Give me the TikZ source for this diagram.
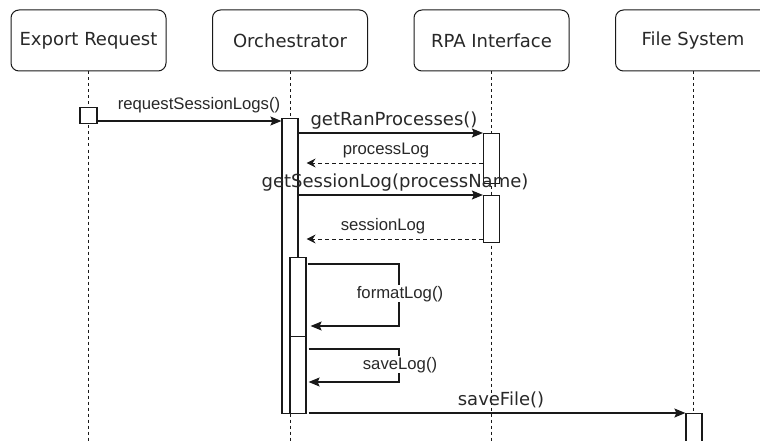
\documentclass[tikz,border=0pt]{standalone}
\usepackage{fontspec}
\usetikzlibrary{arrows.meta,calc}
\newfontfamily\hdrfont{DejaVu Sans}
\newfontfamily\lblfont{Liberation Sans}
\definecolor{ink}{RGB}{25,25,25}
\definecolor{txt}{RGB}{40,40,40}
\tikzset{
  hdr/.style={draw=ink, line width=1pt, rounded corners=8pt, fill=white,
    minimum width=155pt, minimum height=61pt, inner sep=0pt,
    font=\hdrfont\fontsize{18}{21}\selectfont, text=txt},
  life/.style={draw=ink, line width=1pt, dash pattern=on 3pt off 3pt},
  actbox/.style={draw=ink, line width=1.2pt, fill=white, minimum width=16pt,
    inner sep=0pt, anchor=north},
  msg/.style={draw=ink, line width=1.2pt, -{Stealth[length=11pt,width=9pt,inset=2pt]}},
  ret/.style={draw=ink, line width=1pt, dash pattern=on 4pt off 3pt,
    -{Stealth[length=9pt,width=9pt,inset=3pt]}},
  biglbl/.style={font=\hdrfont\fontsize{18}{21}\selectfont, text=txt, anchor=base, inner sep=0pt},
  smllbl/.style={font=\lblfont\fontsize{16.7}{19}\selectfont, text=txt, anchor=base, inner sep=0pt},
}
\begin{document}
\begin{tikzpicture}[x=1pt,y=-1pt]
\useasboundingbox (0,0) rectangle (760,441);

% participants
\node[hdr] (exp) at (88.5,40.5) {Export Request};
\node[hdr] (orc) at (290,40.5) {Orchestrator};
\node[hdr] (rpa) at (491.5,40.5) {RPA Interface};
\node[hdr] (fs)  at (693,40.5) {File System};

% lifeline ends
\coordinate (expEnd) at (88.5,441);
\coordinate (orcEnd) at (290,441);
\coordinate (rpaEnd) at (491.5,441);
\coordinate (fsEnd)  at (693,441);
\draw[life] (exp.south) -- (expEnd);
\draw[life] (orc.south) -- (orcEnd);
\draw[life] (rpa.south) -- (rpaEnd);
\draw[life] (fs.south) -- (fsEnd);

% activations
\node[draw=ink, line width=1.2pt, fill=white, minimum width=17pt, minimum height=16pt,
  inner sep=0pt] (src) at (88.5,115.5) {};
\node[actbox, minimum height=295pt] (oa) at (290,118) {};
\node[actbox, minimum height=79pt] (ia1) at (298,257) {};
\node[actbox, minimum height=77pt] (ia2) at (298,336) {};
\node[actbox, minimum height=50pt] (ra1) at (491.5,133) {};
\node[actbox, minimum height=47pt] (ra2) at (491.5,195) {};
\node[actbox, minimum height=40pt] (fa) at (694,413) {};

% message levels
\coordinate (m1) at (0,121);
\coordinate (m2) at (0,133);
\coordinate (m3) at (0,163);
\coordinate (m4) at (0,195);
\coordinate (m5) at (0,239);
\coordinate (m8) at (0,413);

% requestSessionLogs
\draw[msg] (src.east |- m1) -- (oa.west |- m1);
\node[smllbl] (l1) at (199,110) {requestSessionLogs()};

% getRanProcesses / processLog
\draw[msg] (oa.east |- m2) -- (ra1.west |- m2);
\node[biglbl] (l2) at (394,125) {getRanProcesses()};
\draw[ret] (ra1.west |- m3) -- ([xshift=8pt]oa.east |- m3);
\node[smllbl] (l3) at (386,154) {processLog};

% getSessionLog / sessionLog
\draw[msg] (oa.east |- m4) -- (ra2.west |- m4);
\node[biglbl] (l4) at (395,187) {getSessionLog(processName)};
\draw[ret] (ra2.west |- m5) -- ([xshift=8pt]oa.east |- m5);
\node[smllbl] (l5) at (383,230) {sessionLog};

% formatLog self call
\coordinate (f1) at (399,264);
\coordinate (f2) at (399,326);
\draw[msg] ([xshift=1pt]ia1.east |- f1) -- (f1) -- (f2) -- ([xshift=4pt]ia1.east |- f2);
\node[smllbl, fill=white, inner sep=1pt] (l6) at (400,298) {formatLog()};

% saveLog self call
\coordinate (s1) at (399,349);
\coordinate (s2) at (399,382);
\draw[msg] ([xshift=2pt]ia2.east |- s1) -- (s1) -- (s2) -- ([xshift=2pt]ia2.east |- s2);
\node[smllbl, fill=white, inner sep=1pt] (l7) at (400,369) {saveLog()};

% saveFile
\draw[msg] ([xshift=2pt]ia2.east |- m8) -- (fa.north west);
\node[biglbl] (l8) at (501,405) {saveFile()};
\end{tikzpicture}
\end{document}
